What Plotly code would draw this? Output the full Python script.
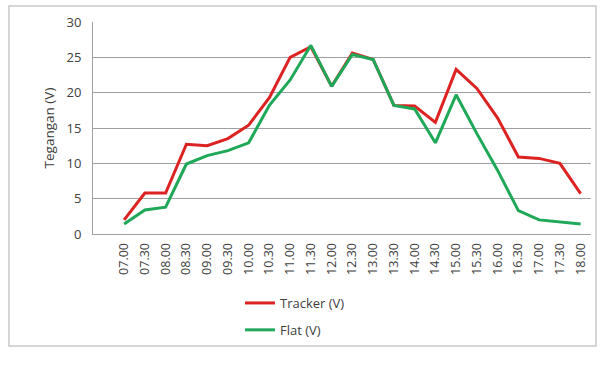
import plotly.graph_objects as go

times = ["07.00","07.30","08.00","08.30","09.00","09.30","10.00","10.30","11.00","11.30",
         "12.00","12.30","13.00","13.30","14.00","14.30","15.00","15.30","16.00","16.30",
         "17.00","17.30","18.00"]
tracker = [2.0,5.8,5.8,12.7,12.5,13.5,15.4,19.3,25.0,26.5,
           20.9,25.6,24.7,18.2,18.1,15.8,23.3,20.6,16.4,10.9,10.7,10.0,5.7]
flat = [1.4,3.4,3.8,9.9,11.1,11.8,12.9,18.2,21.8,26.7,
        20.9,25.4,24.7,18.2,17.7,12.9,19.7,14.2,9.0,3.3,2.0,1.7,1.4]
y_ticks = [0,5,10,15,20,25,30]

W, H = 605, 388
L, R, T, B = 93, 591, 22, 234

fig = go.Figure()
fig.add_trace(go.Scatter(x=times, y=tracker, mode="lines", name="Tracker (V)",
                         line=dict(color="#dc2322", width=3), legendgroup="a"))
fig.add_trace(go.Scatter(x=times, y=flat, mode="lines", name="Flat (V)",
                         line=dict(color="#1ea858", width=3), legendgroup="b"))

def px_x(p):
    return (p - L) / (R - L)

def px_y(p):
    return (B - p) / (B - T)

fig.update_layout(
    width=W, height=H,
    margin=dict(l=L, r=W - R, t=T, b=H - B),
    paper_bgcolor="white", plot_bgcolor="white",
    font=dict(family="Open Sans, Liberation Sans, sans-serif", color="#404040", size=11),
    showlegend=True,
    legend=dict(x=px_x(240), y=px_y(288), xanchor="left", yanchor="top",
                orientation="v", tracegroupgap=7, font=dict(size=13, color="#404040"),
                bgcolor="rgba(0,0,0,0)"),
    xaxis=dict(type="category", range=[-1.5, 22.5], showgrid=False,
               tickangle=-90, ticks="", showline=True, linecolor="#a0a0a0", linewidth=1,
               ticklabelstandoff=3,
               tickfont=dict(size=12.5, color="#404040")),
    yaxis=dict(range=[0, 30], tickvals=y_ticks, showgrid=True, gridcolor="#a0a0a0",
               gridwidth=1, zeroline=False, showline=True, linecolor="#a0a0a0",
               ticks="", ticklabelstandoff=8, tickfont=dict(size=13, color="#404040"),
               title=dict(text="Tegangan (V)", font=dict(size=13.5, color="#404040"), standoff=8)),
    shapes=[dict(type="rect", xref="paper", yref="paper",
                 x0=px_x(9), x1=px_x(596), y0=px_y(346), y1=px_y(6),
                 line=dict(color="#c8c8c8", width=1.5), fillcolor="rgba(0,0,0,0)", layer="below")],
)

fig.write_html("out.html")
